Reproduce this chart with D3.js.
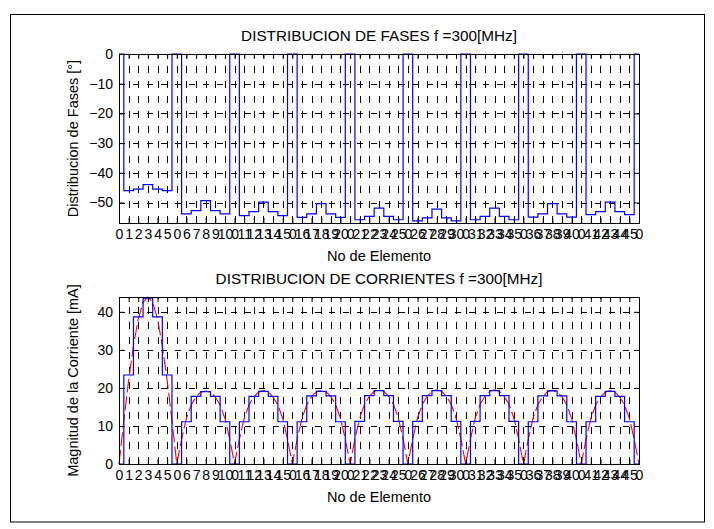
<!DOCTYPE html>
<html>
<head>
<meta charset="utf-8">
<script src="https://cdn.jsdelivr.net/npm/d3@7"></script>
<style>
  html, body { margin: 0; padding: 0; background: #fff; }
  svg { display: block; }
  text { font-family: "Liberation Sans", Arial, sans-serif; fill: #000; }
</style>
</head>
<body>
<script>
// ---------------- DATA ----------------
// Slot positions 0..54 on the x axis; tick labels (element numbers, 0 = gap)
const xTickLabels = [0, 1, 2, 3, 4, 5, 0, 6, 7, 8, 9, 10, 0, 11, 12, 13, 14, 15, 0,
  16, 17, 18, 19, 20, 0, 21, 22, 23, 24, 25, 0, 26, 27, 28, 29, 30, 0,
  31, 32, 33, 34, 35, 0, 36, 37, 38, 39, 40, 0, 41, 42, 43, 44, 45, 0];

// Phase per slot [degrees]
const faseValues = [0,
  -46, -45.5, -44, -45.5, -46, 0,
  -53.8, -52.7, -49.4, -52.7, -53.8, 0,
  -54.4, -53.1, -49.9, -53.1, -54.4, 0,
  -55, -53.8, -50.4, -53.8, -55, 0,
  -55.8, -54.7, -51.9, -54.7, -55.8, 0,
  -56.2, -55.2, -52.2, -55.2, -56.2, 0,
  -55.8, -54.7, -51.9, -54.7, -55.8, 0,
  -54.9, -53.8, -50.4, -53.8, -54.9, 0,
  -54.1, -53.1, -49.9, -53.1, -54.1, 0];

// Current magnitude per slot [mA]
const corrienteValues = [0,
  23.4, 38.7, 43.6, 38.7, 23.4, 0,
  11.1, 17.8, 19.0, 17.8, 11.1, 0,
  11.1, 17.8, 19.1, 17.8, 11.1, 0,
  11.1, 17.9, 19.1, 17.9, 11.1, 0,
  11.2, 18.0, 19.3, 18.0, 11.2, 0,
  11.2, 18.0, 19.3, 18.0, 11.2, 0,
  11.2, 18.0, 19.3, 18.0, 11.2, 0,
  11.1, 17.9, 19.2, 17.9, 11.1, 0,
  11.1, 17.8, 19.1, 17.8, 11.1, 0];

// Continuous current curve sampled every half slot (0, 0.5, 1, ... 54)
const curvaCorriente = [
  0, 11.4, 22, 31.1, 38.1, 42.5, 43.9, 42.5, 38.1, 31.1, 22, 11.4,
  0, 6.5, 12, 15.5, 17.6, 18.9, 19.2, 18.9, 17.6, 15.5, 12, 6.5,
  0, 6.5, 12, 15.5, 17.6, 18.9, 19.3, 18.9, 17.6, 15.5, 12, 6.5,
  0, 6.5, 12, 15.6, 17.7, 19.0, 19.3, 19.0, 17.7, 15.6, 12, 6.5,
  0, 6.6, 12.1, 15.7, 17.8, 19.1, 19.5, 19.1, 17.8, 15.7, 12.1, 6.6,
  0, 6.6, 12.1, 15.7, 17.8, 19.1, 19.5, 19.1, 17.8, 15.7, 12.1, 6.6,
  0, 6.6, 12.1, 15.7, 17.8, 19.1, 19.5, 19.1, 17.8, 15.7, 12.1, 6.6,
  0, 6.5, 12, 15.6, 17.7, 19.0, 19.4, 19.0, 17.7, 15.6, 12, 6.5,
  0, 6.5, 12, 15.5, 17.6, 18.9, 19.3, 18.9, 17.6, 15.5, 12, 6.5,
  0];

const faseTicks = [0, -10, -20, -30, -40, -50];
const corrienteTicks = [0, 10, 20, 30, 40];

const titleFases = "DISTRIBUCION DE FASES f =300[MHz]";
const titleCorr = "DISTRIBUCION DE CORRIENTES f =300[MHz]";
const xLabel = "No de Elemento";
const yLabelFases = "Distribucion de Fases [°]";
const yLabelCorr = "Magnitud de la Corriente [mA]";

// ---------------- DRAW ----------------
const W = 714, H = 529;
const svg = d3.select("body").append("svg").attr("width", W).attr("height", H);
svg.append("rect").attr("width", W).attr("height", H).attr("fill", "#fff");
// figure border
svg.append("rect").attr("x", 10.5).attr("y", 14.5).attr("width", 694).attr("height", 507.5)
  .attr("fill", "none").attr("stroke", "#000").attr("stroke-width", 1);

const slots = d3.range(xTickLabels.length);

function panel(opts) {
  const { top, bottom, yDomain, yTicks, values, title, ylab, titleY, curve } = opts;
  const left = 119, right = 639;
  const x = d3.scaleLinear().domain([0, slots.length - 1]).range([left, right]);
  const y = d3.scaleLinear().domain(yDomain).range([bottom, top]);
  const g = svg.append("g");
  const clipId = "clip" + Math.round(top);
  g.append("clipPath").attr("id", clipId).append("rect")
    .attr("x", left - 1).attr("y", top - 1).attr("width", right - left + 2).attr("height", bottom - top + 2);

  // grid
  const grid = g.append("g").attr("stroke", "#000").attr("stroke-width", 1).attr("fill", "none");
  slots.forEach(i => {
    const xx = Math.round(x(i)) + 0.5;
    grid.append("line").attr("x1", xx).attr("x2", xx).attr("y1", bottom).attr("y2", top)
      .attr("stroke-dasharray", "7,8");
  });
  yTicks.forEach(t => {
    const yy = Math.round(y(t)) + 0.5;
    grid.append("line").attr("x1", left).attr("x2", right).attr("y1", yy).attr("y2", yy)
      .attr("stroke-dasharray", "6,8");
  });

  // data
  const data = slots.map(i => [i, values[i]]);
  if (curve) {
    const cd = curve.map((v, i) => [i / 2, v]);
    g.append("path").datum(cd).attr("clip-path", `url(#${clipId})`)
      .attr("d", d3.line().x(d => x(d[0])).y(d => y(d[1])))
      .attr("fill", "none").attr("stroke", "#ff0000").attr("stroke-width", 1.1)
      .attr("stroke-dasharray", "14,4");
  }
  g.append("path").datum(data).attr("clip-path", `url(#${clipId})`)
    .attr("d", d3.line().curve(d3.curveStep).x(d => x(d[0])).y(d => y(d[1])))
    .attr("fill", "none").attr("stroke", "#0000ff").attr("stroke-width", 1.2);

  // axes
  const xAxisB = d3.axisBottom(x).tickValues(slots).tickFormat(i => xTickLabels[i]).tickSizeInner(-5).tickSizeOuter(0).tickPadding(6);
  const xAxisT = d3.axisTop(x).tickValues(slots).tickFormat("").tickSizeInner(-5).tickSizeOuter(0);
  const yAxisL = d3.axisLeft(y).tickValues(yTicks).tickSizeInner(-5).tickSizeOuter(0).tickPadding(6);
  const yAxisR = d3.axisRight(y).tickValues(yTicks).tickFormat("").tickSizeInner(-5).tickSizeOuter(0);
  const ab = g.append("g").attr("transform", `translate(0,${bottom})`).call(xAxisB);
  g.append("g").attr("transform", `translate(0,${top})`).call(xAxisT);
  const al = g.append("g").attr("transform", `translate(${left},0)`).call(yAxisL);
  g.append("g").attr("transform", `translate(${right},0)`).call(yAxisR);
  g.selectAll(".domain").remove();
  g.selectAll(".tick line").attr("stroke", "#000");
  ab.selectAll("text").attr("font-size", 14).attr("dy", "0.71em");
  al.selectAll("text").attr("font-size", 14);
  // box
  g.append("rect").attr("x", left + 0.5).attr("y", Math.round(top) + 0.5)
    .attr("width", right - left).attr("height", Math.round(bottom) - Math.round(top))
    .attr("fill", "none").attr("stroke", "#000").attr("stroke-width", 1);

  // title & labels
  g.append("text").attr("x", (left + right) / 2).attr("y", titleY).attr("text-anchor", "middle")
    .attr("dominant-baseline", "central").attr("font-size", 15.3).text(title);
  g.append("text").attr("x", (left + right) / 2).attr("y", bottom + 33).attr("text-anchor", "middle")
    .attr("dominant-baseline", "central").attr("font-size", 14.5).text(xLabel);
  g.append("text").attr("transform", `translate(73,${(top + bottom) / 2}) rotate(-90)`)
    .attr("text-anchor", "middle").attr("dominant-baseline", "central").attr("font-size", 14.5).text(ylab);
}

panel({ top: 54, bottom: 223, yDomain: [-56.9, 0], yTicks: faseTicks, values: faseValues,
  title: titleFases, ylab: yLabelFases, titleY: 35 });
panel({ top: 297, bottom: 464, yDomain: [0, 43.9], yTicks: corrienteTicks, values: corrienteValues,
  title: titleCorr, ylab: yLabelCorr, titleY: 278, curve: curvaCorriente });
</script>
</body>
</html>
